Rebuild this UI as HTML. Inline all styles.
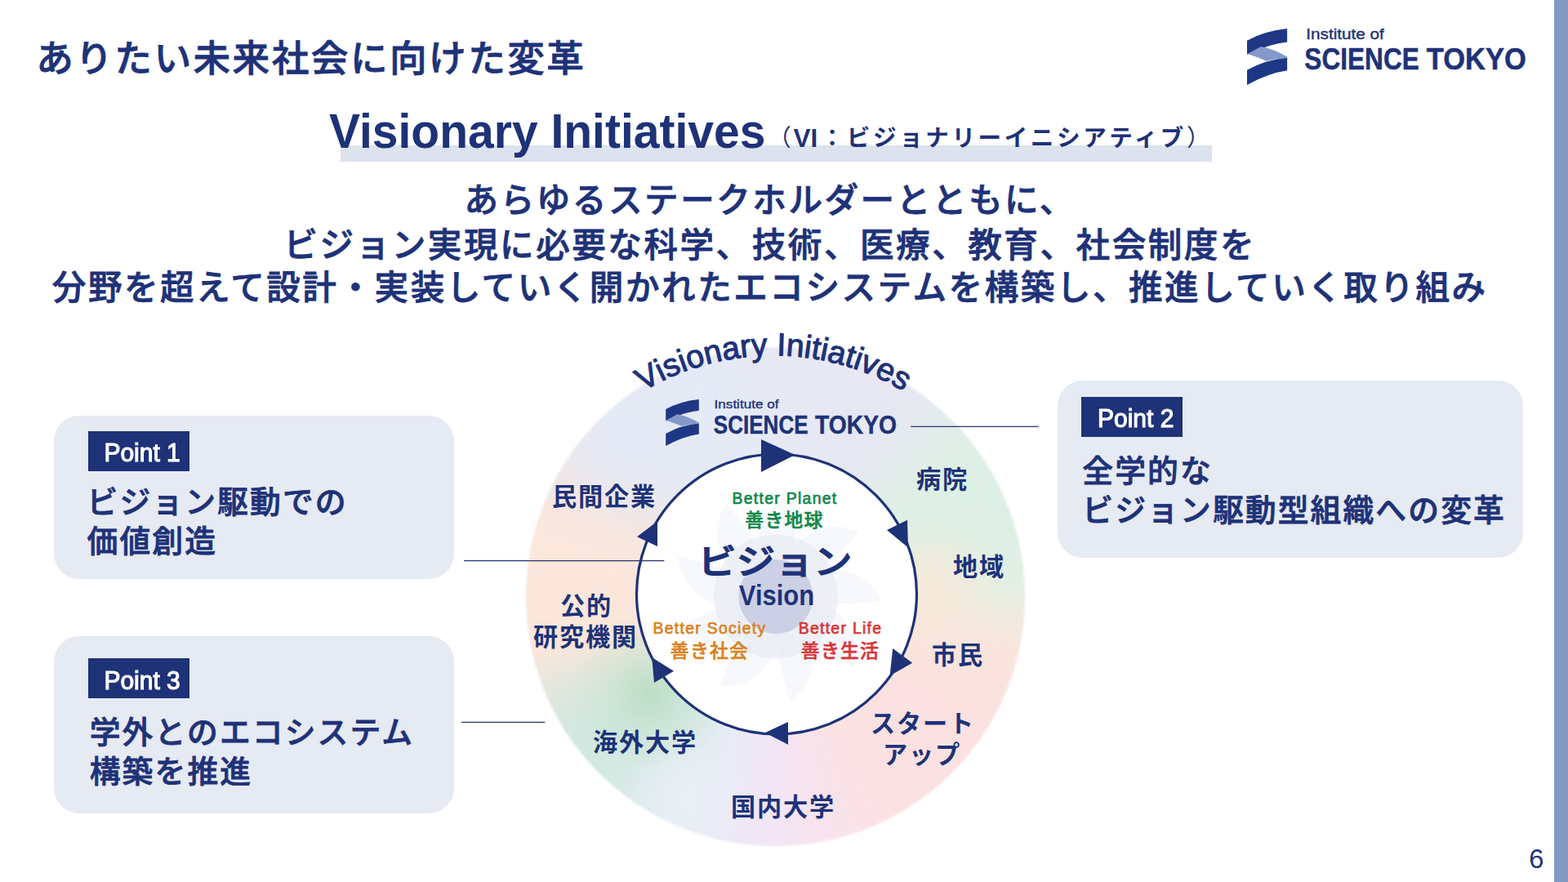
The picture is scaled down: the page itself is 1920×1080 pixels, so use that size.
<!DOCTYPE html>
<html lang="ja">
<head>
<meta charset="utf-8">
<title>ありたい未来社会に向けた変革 - Visionary Initiatives</title>
<style>
  html, body { margin: 0; padding: 0; background: #fff; }
  body {
    width: 1920px; height: 1080px; position: relative; overflow: hidden;
    font-family: "Liberation Sans", "Noto Sans CJK JP", sans-serif;
    color: #1e3278;
  }
  .abs { position: absolute; white-space: nowrap; line-height: 1; }
  .sidebar { position: absolute; left: 1903px; top: 0; width: 17px; height: 1080px; background: #8199c5; }
  .title { left: 44.2px; top: 49.5px; font-size: 45.7px; letter-spacing: 2.4px; font-weight: 500; -webkit-text-stroke: 0.8px #1e3278; }
  .hl { position: absolute; left: 417px; top: 178px; width: 1067px; height: 19.5px; background: #dce2ee; }
  .h-en { left: 403px; top: 132.6px; font-size: 57px; font-weight: 700; transform-origin: 0 100%; transform: scaleY(1.045); }
  .h-ja { left: 940.3px; top: 153px; font-size: 28.6px; letter-spacing: 3.55px; font-weight: 700; }
  .h-ja .vi { font-size: 31.5px; letter-spacing: 0; font-weight: 700; margin: 0 3.5px 0 -1px; position: relative; top: 1px; }
  .h-ja .p { font-weight: 400; }
  .lead { position: absolute; left: 0; width: 1885.5px; text-align: center; font-size: 41.6px; letter-spacing: 2.5px; font-weight: 500; -webkit-text-stroke: 0.8px #1e3278; line-height: 1; white-space: nowrap; }
  .box { position: absolute; background: #e6eaf3; border-radius: 31px; }
  .tag { position: absolute; background: #1e3278; color: #fff; height: 49px; width: 124px; }
  .tag span { position: absolute; left: 19.6px; top: 12.5px; font-size: 30px; font-weight: 400; line-height: 1; white-space: nowrap; -webkit-text-stroke: 1.1px #fff; transform-origin: 0 100%; transform: scaleY(1.07); }
  .btxt { font-size: 37.8px; letter-spacing: 2.1px; font-weight: 500; -webkit-text-stroke: 0.8px #1e3278; line-height: 48px; white-space: nowrap; position: absolute; }
  .lbl { position: absolute; font-size: 30.2px; letter-spacing: 1.8px; text-indent: 1.8px; font-weight: 700; line-height: 38px; text-align: center; white-space: nowrap; transform: translateX(-50%); }
  .sm { position: absolute; text-align: center; white-space: nowrap; transform: translateX(-50%); font-weight: 500; line-height: 1; }
  .ring {
    position: absolute; left: 642px; top: 423px; width: 615px; height: 615px; border-radius: 50%;
    background:
      radial-gradient(circle 75px at 200px 555px, rgba(235,240,248,0.85) 0%, rgba(235,240,248,0) 100%),
      radial-gradient(circle 95px at 153px 426px, rgba(188,221,196,0.95) 0%, rgba(196,226,206,0.6) 45%, rgba(205,232,222,0) 100%),
      radial-gradient(circle 110px at 70px 470px, rgba(207,232,224,0.9) 0%, rgba(207,232,224,0) 100%),
      radial-gradient(circle 90px at 500px 300px, rgba(251,232,216,0.9) 0%, rgba(251,232,216,0) 100%),
      radial-gradient(circle 120px at 560px 200px, rgba(220,240,228,0.9) 0%, rgba(220,240,228,0) 100%),
      radial-gradient(circle 110px at 120px 120px, rgba(227,234,247,0.9) 0%, rgba(227,234,247,0) 100%),
      conic-gradient(from 0deg at 50% 50%, #e6e9f4 0deg, #e7e7f3 30deg, #e0eee6 52deg, #ddf0e5 70deg, #e4efe2 88deg, #f9e5dc 102deg, #fbe1e0 122deg, #fbe2e2 150deg, #f8e3ec 168deg, #f1e6f6 183deg, #e8ecf5 198deg, #dcebeb 215deg, #d3e9e1 230deg, #eee6dc 244deg, #fbe6da 258deg, #fbe7dc 285deg, #f3e6e4 300deg, #e6e9f4 318deg, #e4eaf6 340deg, #e6e9f4 360deg);
    -webkit-mask-image: radial-gradient(closest-side, #000 0%, #000 98.7%, rgba(0,0,0,0) 100%);
            mask-image: radial-gradient(closest-side, #000 0%, #000 98.7%, rgba(0,0,0,0) 100%);
  }
  .sm.en { font-size: 19.4px; font-weight: 400; letter-spacing: 1.3px; -webkit-text-stroke: 0.7px currentColor; }
  .sm.ja { font-size: 22.8px; font-weight: 500; letter-spacing: 1.3px; -webkit-text-stroke: 0.6px currentColor; }
  .sm.vja { font-size: 42px; font-weight: 500; -webkit-text-stroke: 1.3px #1e3278; transform: translateX(-50%) scaleX(1.125); }
  .sm.ven { font-size: 35px; font-weight: 700; transform: translateX(-50%) scaleX(0.885); }
  .pageno { left: 1872.3px; top: 1036.3px; font-size: 32.6px; font-weight: 400; }
  svg { position: absolute; left: 0; top: 0; }
</style>
</head>
<body>
<div class="sidebar"></div>

<div class="abs title">ありたい未来社会に向けた変革</div>

<div class="hl"></div>
<div class="abs h-en">Visionary Initiatives</div>
<div class="abs h-ja"><span class="p">（</span><span class="vi">VI</span>：ビジョナリーイニシアティブ<span class="p">）</span></div>

<div class="lead" style="top:225px">あらゆるステークホルダーとともに、</div>
<div class="lead" style="top:280px">ビジョン実現に必要な科学、技術、医療、教育、社会制度を</div>
<div class="lead" style="top:331.5px">分野を超えて設計・実装していく開かれたエコシステムを構築し、推進していく取り組み</div>

<!-- point boxes -->
<div class="box" style="left:66px;top:509px;width:490px;height:200px"></div>
<div class="tag" style="left:107.8px;top:527.8px"><span>Point 1</span></div>
<div class="btxt" style="left:106.5px;top:591px">ビジョン駆動での<br>価値創造</div>

<div class="box" style="left:66px;top:779px;width:490px;height:217px"></div>
<div class="tag" style="left:107.8px;top:806px"><span>Point 3</span></div>
<div class="btxt" style="left:109.7px;top:873.3px">学外とのエコシステム<br>構築を推進</div>

<div class="box" style="left:1295px;top:466px;width:570px;height:217px"></div>
<div class="tag" style="left:1324.4px;top:485.8px"><span>Point 2</span></div>
<div class="btxt" style="left:1325.3px;top:553.3px">全学的な<br>ビジョン駆動型組織への変革</div>

<div class="ring"></div>

<!-- diagram graphics -->
<svg id="dia" width="1920" height="1080" viewBox="0 0 1920 1080">
  <defs>
    <path id="arc" d="M 708.76 546.39 A 311 311 0 0 1 1185.24 546.39" fill="none"/>
  </defs>

  <!-- inner white disc -->
  <circle cx="951" cy="727.5" r="171.5" fill="#ffffff"/>
  <g fill="#dfe3ee" fill-opacity="0.26">
    <path d="M0,0 C 30,-52 95,-62 128,-18 C 96,-6 48,6 0,0 Z" transform="translate(950,730.5) rotate(10)"/>
    <path d="M0,0 C 30,-52 95,-62 128,-18 C 96,-6 48,6 0,0 Z" transform="translate(950,730.5) rotate(50)"/>
    <path d="M0,0 C 30,-52 95,-62 128,-18 C 96,-6 48,6 0,0 Z" transform="translate(950,730.5) rotate(90)"/>
    <path d="M0,0 C 30,-52 95,-62 128,-18 C 96,-6 48,6 0,0 Z" transform="translate(950,730.5) rotate(130)"/>
    <path d="M0,0 C 30,-52 95,-62 128,-18 C 96,-6 48,6 0,0 Z" transform="translate(950,730.5) rotate(170)"/>
    <path d="M0,0 C 30,-52 95,-62 128,-18 C 96,-6 48,6 0,0 Z" transform="translate(950,730.5) rotate(210)"/>
    <path d="M0,0 C 30,-52 95,-62 128,-18 C 96,-6 48,6 0,0 Z" transform="translate(950,730.5) rotate(250)"/>
    <path d="M0,0 C 30,-52 95,-62 128,-18 C 96,-6 48,6 0,0 Z" transform="translate(950,730.5) rotate(290)"/>
    <path d="M0,0 C 30,-52 95,-62 128,-18 C 96,-6 48,6 0,0 Z" transform="translate(950,730.5) rotate(330)"/>
  </g>
  <circle cx="950" cy="730.5" r="76" fill="#e4e7f1" fill-opacity="0.55"/>
  <circle cx="950" cy="730.5" r="45.4" fill="#ccd0e4"/>

  <!-- arc ring -->
  <circle cx="951" cy="727.5" r="171.5" fill="none" stroke="#1e3278" stroke-width="3.2"/>
  <!-- arrow heads -->
  <g fill="#1e3278">
    <polygon points="932,538 932,578 973.5,557"/>
    <polygon points="1111,636.7 1086,649 1112,670.5"/>
    <polygon points="1093.2,794 1117.2,811.7 1089.5,827.5"/>
    <polygon points="965,884 965,911.7 936.7,897.2"/>
    <polygon points="825,821.7 801,836 798.3,805"/>
    <polygon points="805,638.3 780,657.2 805,669"/>
  </g>

  <!-- connector lines -->
  <g stroke="#27356f" stroke-width="1.1" fill="none">
    <line x1="568.1" y1="686.6" x2="813.4" y2="686.6"/>
    <line x1="565" y1="884.4" x2="667.3" y2="884.4"/>
    <line x1="1115.2" y1="522.4" x2="1271.8" y2="522.4"/>
  </g>

  <!-- logos -->
  <g transform="translate(1527,35) scale(0.0927)">
      <path d="M0,158 Q230,30 530,0 L530,178 Q300,200 0,343 Z" fill="#1f3886"/>
      <path d="M5,335 L185,238 Q380,280 530,373 L530,386 Q380,400 255,428 Q120,370 5,335 Z" fill="#8499c9"/>
      <path d="M0,548 Q250,410 530,386 L530,553 Q280,590 0,743 Z" fill="#1f3886"/>
  </g>
  <text x="1599.3" y="48.2" font-family="'Liberation Sans', sans-serif" font-size="18.4" fill="#1e3278" stroke="#1e3278" stroke-width="0.4" textLength="95.5" lengthAdjust="spacingAndGlyphs">Institute of</text>
  <text x="1597.3" y="85.2" font-family="'Liberation Sans', sans-serif" font-size="37" font-weight="700" fill="#1e3278" stroke="#1e3278" stroke-width="0.5" textLength="140.5" lengthAdjust="spacingAndGlyphs">SCIENCE</text>
  <text x="1746.8" y="85.2" font-family="'Liberation Sans', sans-serif" font-size="37" font-weight="700" fill="#1e3278" stroke="#1e3278" stroke-width="0.5" textLength="122" lengthAdjust="spacingAndGlyphs">TOKYO</text>

  <g transform="translate(815.2,489) scale(0.0767)">
      <path d="M0,158 Q230,30 530,0 L530,178 Q300,200 0,343 Z" fill="#1f3886"/>
      <path d="M5,335 L185,238 Q380,280 530,373 L530,386 Q380,400 255,428 Q120,370 5,335 Z" fill="#8499c9"/>
      <path d="M0,548 Q250,410 530,386 L530,553 Q280,590 0,743 Z" fill="#1f3886"/>
  </g>
  <text x="874.6" y="500.3" font-family="'Liberation Sans', sans-serif" font-size="15.3" fill="#1e3278" stroke="#1e3278" stroke-width="0.35" textLength="78.8" lengthAdjust="spacingAndGlyphs">Institute of</text>
  <text x="873.8" y="530.7" font-family="'Liberation Sans', sans-serif" font-size="32.2" font-weight="700" fill="#1e3278" stroke="#1e3278" stroke-width="0.45" textLength="115.8" lengthAdjust="spacingAndGlyphs">SCIENCE</text>
  <text x="998" y="530.7" font-family="'Liberation Sans', sans-serif" font-size="32.2" font-weight="700" fill="#1e3278" stroke="#1e3278" stroke-width="0.45" textLength="100" lengthAdjust="spacingAndGlyphs">TOKYO</text>

  <!-- curved caption -->
  <text font-family="'Liberation Sans', sans-serif" font-size="39.2" font-weight="400" fill="#1e3278" text-anchor="middle" stroke="#1e3278" stroke-width="1.1" stroke-linejoin="round"><textPath href="#arc" startOffset="50%">Visionary Initiatives</textPath></text>
</svg>

<!-- ring labels -->
<div class="lbl" style="left:739px;top:590px">民間企業</div>
<div class="lbl" style="left:1153px;top:569px">病院</div>
<div class="lbl" style="left:1198px;top:676px">地域</div>
<div class="lbl" style="left:1172px;top:784px">市民</div>
<div class="lbl" style="left:1129px;top:868px">スタート<br>アップ</div>
<div class="lbl" style="left:958px;top:970px">国内大学</div>
<div class="lbl" style="left:789px;top:891px">海外大学</div>
<div class="lbl" style="left:717px;top:724px">公的<br>研究機関</div>

<!-- centre texts -->
<div class="sm en" style="left:961px;top:601.3px;color:#14874b">Better Planet</div>
<div class="sm ja" style="left:960.5px;top:625.5px;color:#14874b">善き地球</div>
<div class="sm vja" style="left:948.6px;top:667.5px">ビジョン</div>
<div class="sm ven" style="left:950.8px;top:710.5px">Vision</div>
<div class="sm en" style="left:869px;top:760px;color:#d9831f">Better Society</div>
<div class="sm ja" style="left:869px;top:785.5px;color:#d9831f">善き社会</div>
<div class="sm en" style="left:1029px;top:760px;color:#d7373a">Better Life</div>
<div class="sm ja" style="left:1029px;top:785.5px;color:#d7373a">善き生活</div>

<div class="abs pageno">6</div>
</body>
</html>
